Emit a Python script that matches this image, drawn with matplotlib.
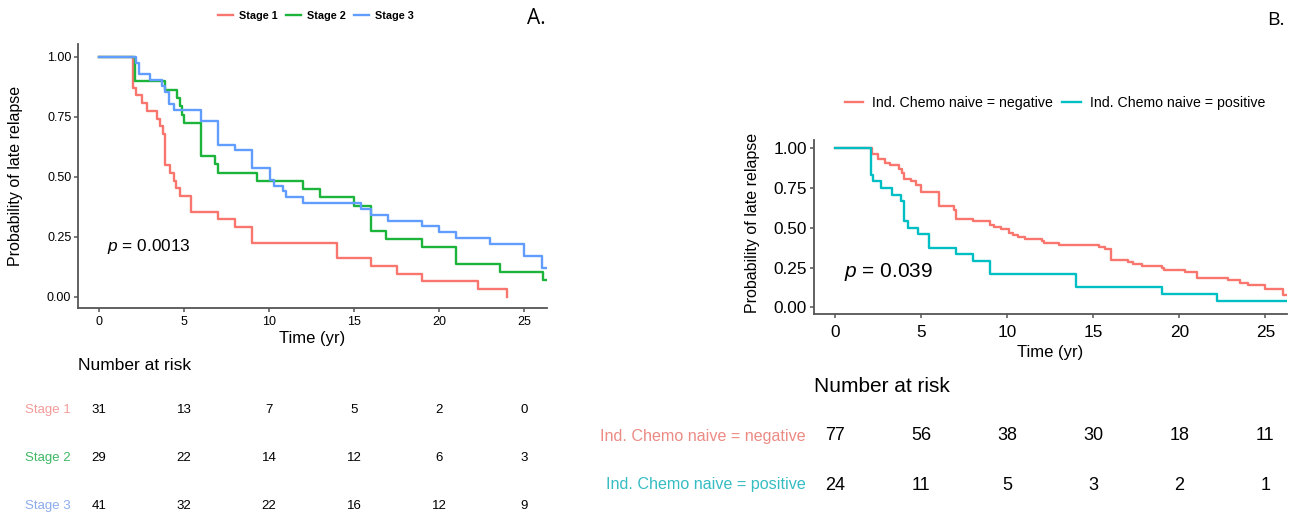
import matplotlib
matplotlib.use("Agg")
import matplotlib.pyplot as plt
from matplotlib.transforms import blended_transform_factory

plt.rcParams['font.family'] = ['Liberation Sans', 'DejaVu Sans']
plt.rcParams['mathtext.fontset'] = 'custom'
plt.rcParams['mathtext.it'] = 'Liberation Sans:italic'
plt.rcParams['mathtext.rm'] = 'Liberation Sans'

W, H = 1294, 515

# ---- panel A data (stage) ----
time_s1 = [0, 2.0, 2.2, 2.55, 2.85, 3.4, 3.6, 3.75, 3.9, 4.15, 4.4, 4.5, 4.75, 5.4, 7.0, 8.0, 9.0, 14.0, 16.0, 17.5, 19.0, 22.3, 24.0]
surv_s1 = [1.0, 0.871, 0.839, 0.806, 0.774, 0.742, 0.710, 0.677, 0.548, 0.516, 0.484, 0.452, 0.419, 0.355, 0.323, 0.290, 0.226, 0.161, 0.129, 0.097, 0.065, 0.032, 0.0]
time_s2 = [0, 2.1, 3.9, 4.6, 4.75, 4.9, 5.0, 6.0, 6.8, 7.0, 9.3, 12.0, 13.0, 15.0, 16.0, 16.9, 19.0, 21.0, 23.6, 26.1]
surv_s2 = [1.0, 0.897, 0.862, 0.828, 0.793, 0.759, 0.724, 0.586, 0.552, 0.517, 0.483, 0.448, 0.414, 0.379, 0.276, 0.241, 0.207, 0.138, 0.103, 0.069]
time_s3 = [0, 2.15, 2.35, 3.0, 3.7, 3.9, 4.1, 4.4, 6.0, 7.0, 8.0, 9.0, 10.05, 10.3, 10.8, 11.0, 12.0, 15.4, 16.0, 17.0, 19.0, 20.0, 21.0, 23.0, 25.0, 26.05]
surv_s3 = [1.0, 0.976, 0.927, 0.902, 0.878, 0.854, 0.805, 0.780, 0.732, 0.634, 0.610, 0.537, 0.488, 0.463, 0.439, 0.415, 0.390, 0.366, 0.341, 0.317, 0.293, 0.268, 0.244, 0.220, 0.171, 0.122]

# ---- panel B data (induction chemo naive) ----
time_neg = [0, 2.15, 2.5, 2.9, 3.2, 3.7, 3.9, 4.0, 4.4, 4.7, 4.95, 6.0, 6.9, 7.0, 8.0, 9.0, 9.2, 9.6, 10.1, 10.3,
            10.6, 11.0, 12.0, 12.1, 13.0, 15.3, 15.7, 16.0, 17.0, 17.3, 17.8, 19.0, 19.1, 20.3, 21.0, 22.8, 23.5, 24.0, 25.0, 26.0]
surv_neg = [1.0, 0.961, 0.935, 0.909, 0.896, 0.870, 0.844, 0.805, 0.792, 0.766, 0.727, 0.636, 0.610, 0.558, 0.545, 0.519, 0.506, 0.494, 0.468, 0.455,
            0.442, 0.429, 0.416, 0.403, 0.390, 0.377, 0.364, 0.299, 0.286, 0.273, 0.260, 0.247, 0.234, 0.221, 0.182, 0.169, 0.156, 0.143, 0.117, 0.078]
time_pos = [0, 2.05, 2.2, 2.65, 3.3, 3.8, 4.0, 4.2, 4.8, 5.45, 7.0, 8.0, 9.0, 14.0, 19.0, 22.2]
surv_pos = [1.0, 0.833, 0.792, 0.750, 0.708, 0.667, 0.542, 0.500, 0.458, 0.375, 0.333, 0.292, 0.208, 0.125, 0.083, 0.042]

# number at risk
risk_times = [0, 5, 10, 15, 20, 25]
risk_s1 = [31, 13, 7, 5, 2, 0]
risk_s2 = [29, 22, 14, 12, 6, 3]
risk_s3 = [41, 32, 22, 16, 12, 9]
risk_neg = [77, 56, 38, 30, 18, 11]
risk_pos = [24, 11, 5, 3, 2, 1]

labels_a = ['Stage 1', 'Stage 2', 'Stage 3']
labels_b = ['Ind. Chemo naive = negative', 'Ind. Chemo naive = positive']
yticks = [0, 0.25, 0.5, 0.75, 1.0]
xticks = [0, 5, 10, 15, 20, 25]


def fx(x):
    return x / W


def fy(y):
    return 1 - y / H


def make_axes(fig, left, top, right, bottom):
    return fig.add_axes([fx(left), fy(bottom), (right - left) / W, (bottom - top) / H])


def km(ax, t, s, color, xmax, extend=True):
    t = list(t)
    s = list(s)
    if extend:
        t.append(xmax)
        s.append(s[-1])
    line, = ax.step(t, s, where='post', color=color, lw=1.7, clip_on=True)
    return line


def style(ax, fs, pad_x, pad_y):
    for sp in ['top', 'right']:
        ax.spines[sp].set_visible(False)
    for sp in ['left', 'bottom']:
        ax.spines[sp].set_color('#555555')
        ax.spines[sp].set_linewidth(1.3)
    ax.set_xticks(xticks)
    ax.set_yticks(yticks)
    ax.set_yticklabels(['%.2f' % v for v in yticks])
    ax.tick_params(axis='both', colors='#555555', length=3, width=1.1, labelsize=fs, labelcolor='black')
    ax.tick_params(axis='x', pad=pad_x)
    ax.tick_params(axis='y', pad=pad_y)


fig = plt.figure(figsize=(W / 100, H / 100), dpi=100)

# ================= Panel A =================
axA = make_axes(fig, 77.5, 44.3, 546.7, 308.3)
xmaxA = (546.7 - 99) / 17.01
axA.set_xlim((77.5 - 99) / 17.01, xmaxA)
axA.set_ylim(-0.048, 1.052)
colA = ['#F8766D', '#1DB43C', '#619CFF']
hA = [km(axA, time_s1, surv_s1, colA[0], xmaxA, extend=False),
      km(axA, time_s2, surv_s2, colA[1], xmaxA),
      km(axA, time_s3, surv_s3, colA[2], xmaxA)]
style(axA, 9, 2.2, 1.5)
axA.text(fx(107), fy(246), r'$p$ = 0.0013', transform=fig.transFigure, fontsize=12.4, va='center', ha='left')
fig.text(fx(312), fy(339), 'Time (yr)', fontsize=12, ha='center', va='center')
fig.text(fx(16), fy(176), 'Probability of late relapse', fontsize=11.5, rotation=90, ha='center', va='center')
axA.legend(hA, labels_a, loc='center', bbox_to_anchor=(fx(316), fy(16)), bbox_transform=fig.transFigure,
           ncol=3, frameon=False, prop={'size': 7.8, 'weight': 'bold'}, handlelength=1.42,
           handletextpad=0.55, columnspacing=0.75, borderpad=0)
fig.text(fx(536), fy(18), 'A.', fontsize=15, family='Open Sans', ha='center', va='center')

# risk table A
fig.text(fx(77.5), fy(365), 'Number at risk', fontsize=12.5, ha='left', va='center')
trA = blended_transform_factory(axA.transData, fig.transFigure)
lab_colA = ['#F29C9A', '#40B865', '#8CABEB']
rowsA = [risk_s1, risk_s2, risk_s3]
rowyA = [410, 458, 506]
for lab, c, row, y in zip(labels_a, lab_colA, rowsA, rowyA):
    fig.text(fx(71), fy(y), lab, color=c, fontsize=9.5, ha='right', va='center')
    for t, n in zip(risk_times, row):
        axA.text(t, fy(y), str(n), transform=trA, fontsize=9.5, ha='center', va='center', clip_on=False)

# ================= Panel B =================
axB = make_axes(fig, 814.2, 140, 1287, 314)
xmaxB = (1287 - 835.4) / 17.2
axB.set_xlim((814.2 - 835.4) / 17.2, xmaxB)
axB.set_ylim(-0.042, 1.052)
colB = ['#F8766D', '#00BFC4']
hB = [km(axB, time_neg, surv_neg, colB[0], xmaxB),
      km(axB, time_pos, surv_pos, colB[1], xmaxB)]
style(axB, 12.4, 4.8, 2.2)
axB.text(fx(844), fy(272), r'$p$ = 0.039', transform=fig.transFigure, fontsize=15, va='center', ha='left')
fig.text(fx(1050), fy(352), 'Time (yr)', fontsize=12, ha='center', va='center')
fig.text(fx(753), fy(223), 'Probability of late relapse', fontsize=11.5, rotation=90, ha='center', va='center')
axB.legend(hB, labels_b, loc='center', bbox_to_anchor=(fx(1055), fy(103)), bbox_transform=fig.transFigure,
           ncol=2, frameon=False, prop={'size': 10.2}, handlelength=1.3,
           handletextpad=0.66, columnspacing=0.65, borderpad=0)
fig.text(fx(1276), fy(20), 'B.', fontsize=14, family='Open Sans', ha='center', va='center')

# risk table B
fig.text(fx(814), fy(387), 'Number at risk', fontsize=15, ha='left', va='center')
trB = blended_transform_factory(axB.transData, fig.transFigure)
lab_colB = ['#EC8A84', '#35BDC2']
rowsB = [risk_neg, risk_pos]
rowyB = [436, 485]
for lab, c, row, y in zip(labels_b, lab_colB, rowsB, rowyB):
    fig.text(fx(806), fy(y), lab, color=c, fontsize=11.6, ha='right', va='center')
    for t, n in zip(risk_times, row):
        axB.text(t, fy(y), str(n), transform=trB, fontsize=13, ha='center', va='center', clip_on=False)

fig.savefig('out.png', dpi=100)
